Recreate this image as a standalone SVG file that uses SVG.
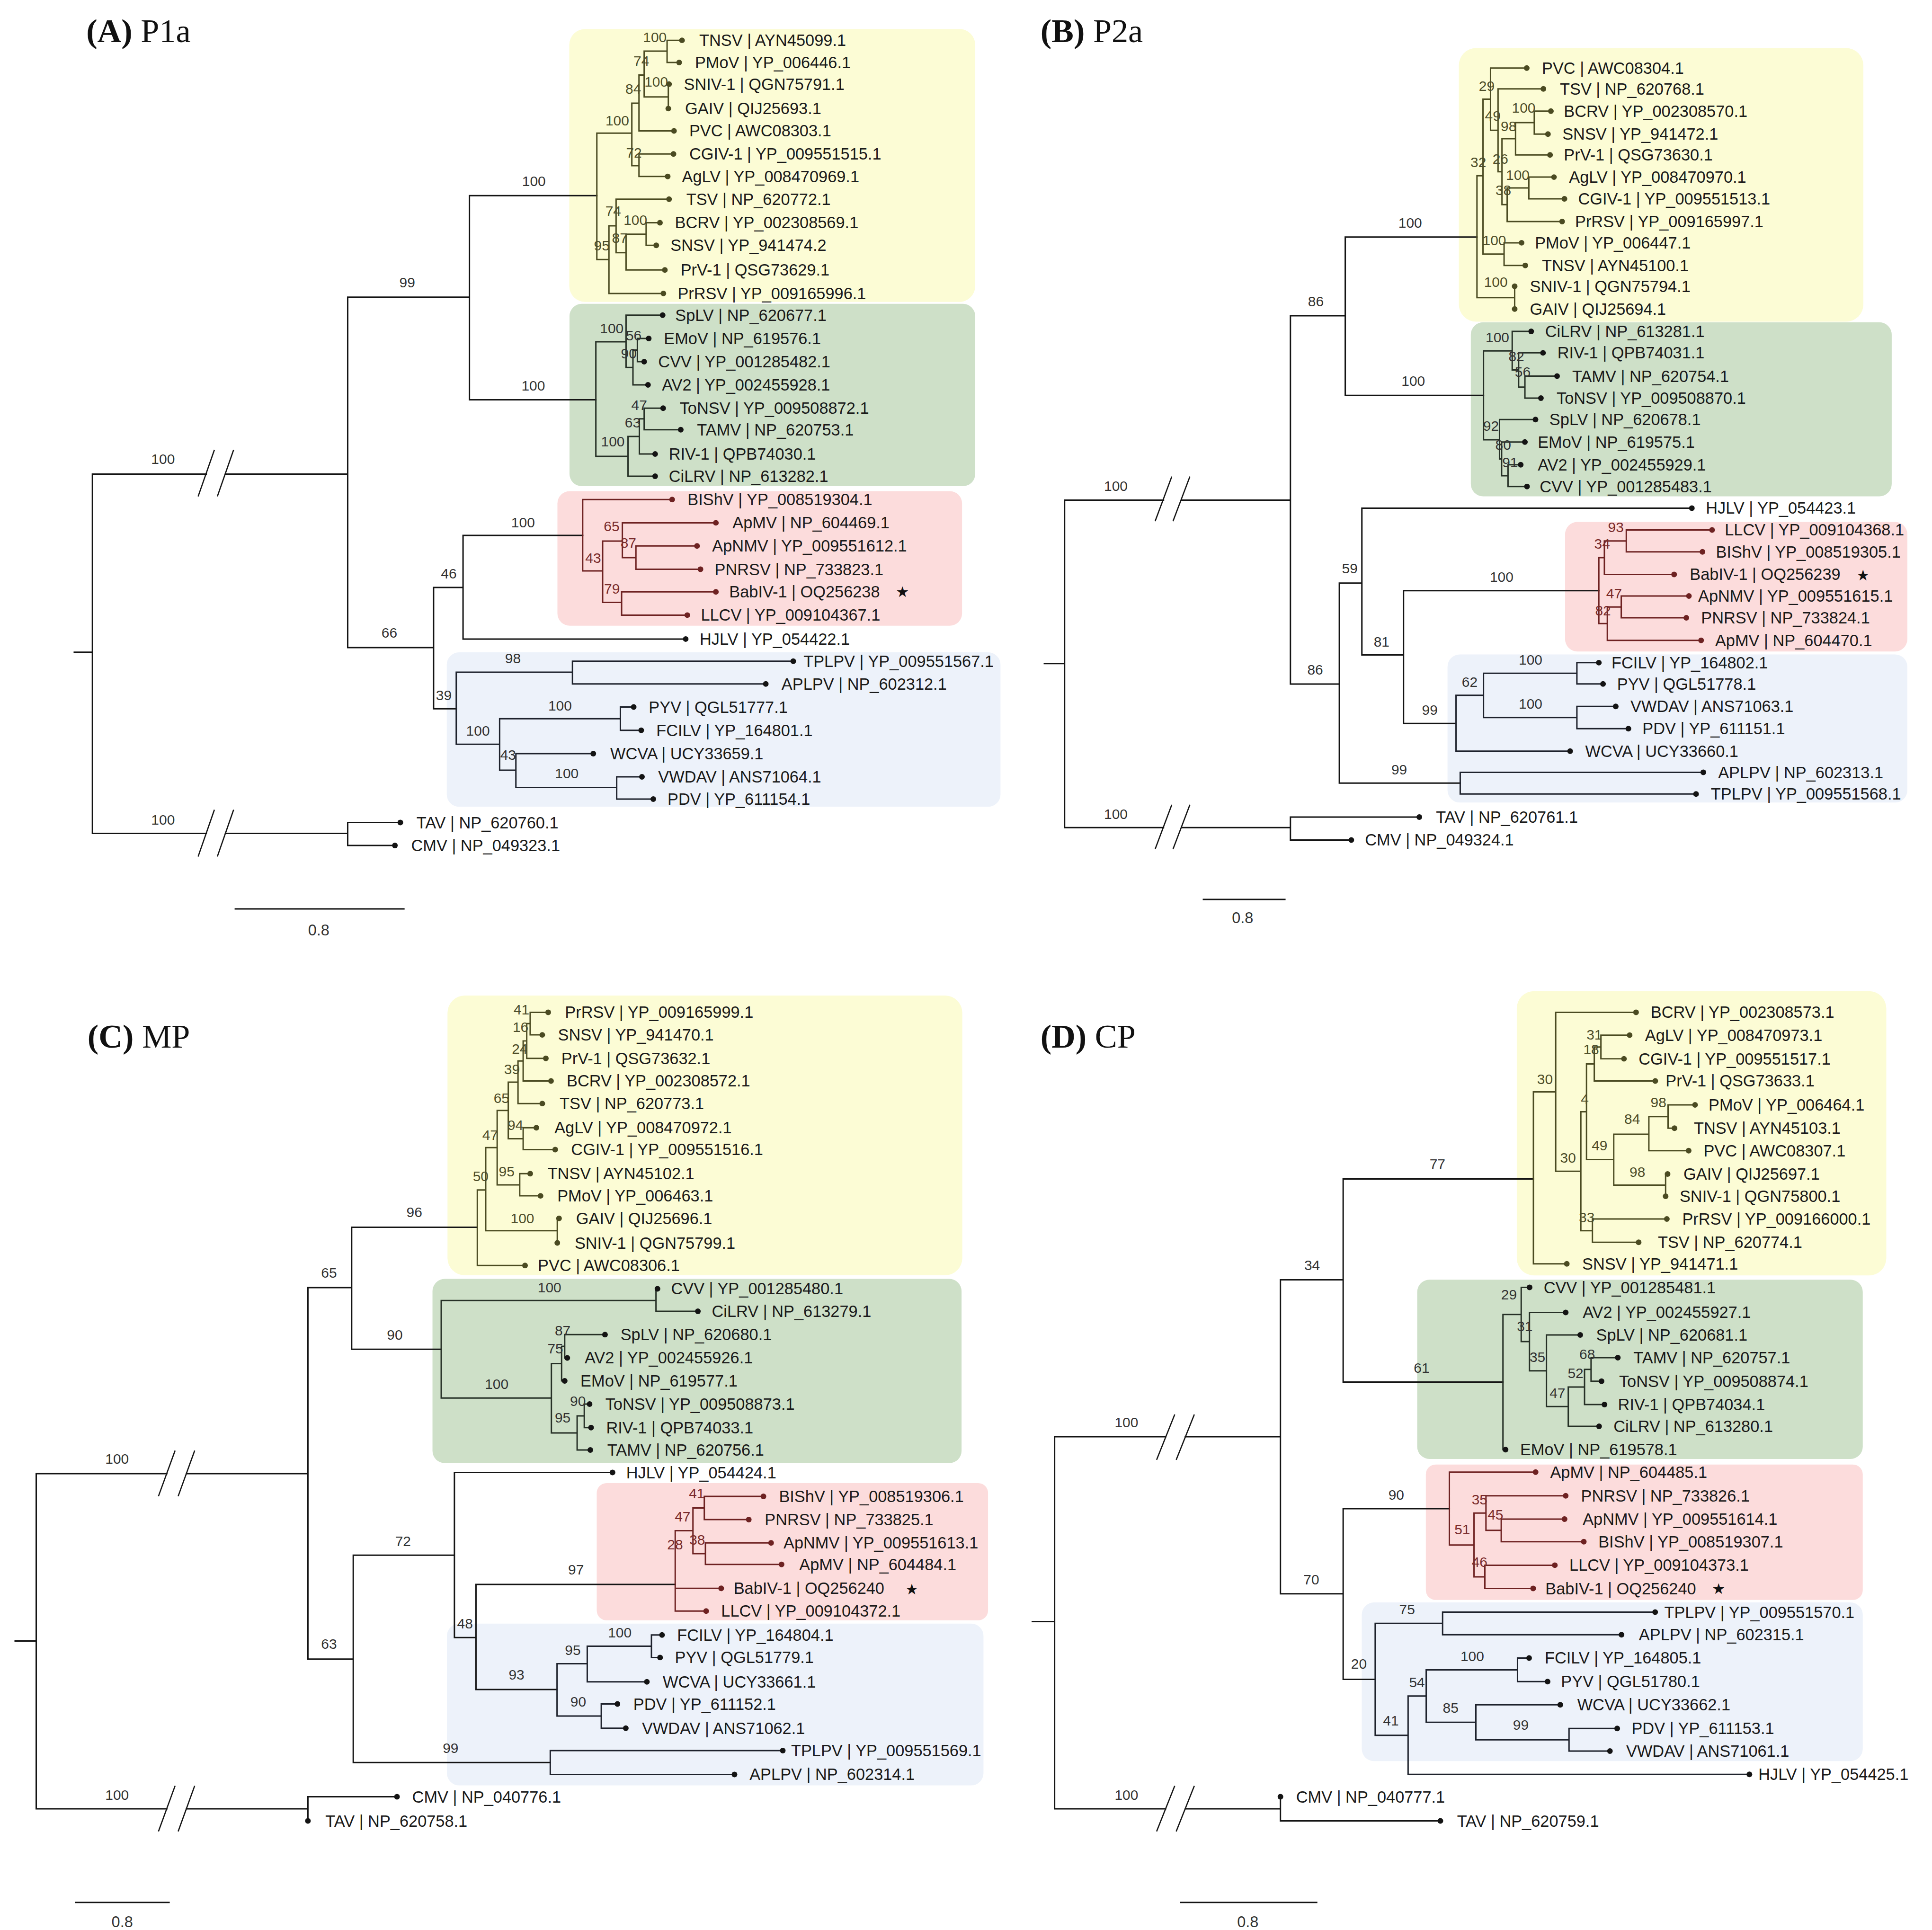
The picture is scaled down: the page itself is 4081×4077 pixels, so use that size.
<svg xmlns="http://www.w3.org/2000/svg" width="4081" height="4077" viewBox="0 0 4081 4077">
<style>
.e{fill:none;stroke-width:1.15;stroke-linecap:square}
.ek{stroke:#141414}
.ey{stroke:#4b4b22}
.eg{stroke:#263026}
.er{stroke:#6e2222}
.eb{stroke:#1e222c}
.brk{fill:none;stroke:#141414;stroke-width:1}
.d{fill:#141414}
.dy{fill:#4b4b22}
.dr{fill:#6e2222}
.t{font-family:"Liberation Sans",Arial,sans-serif;font-size:13.2px;dominant-baseline:central;fill:#1a1a1a}
.b{font-family:"Liberation Sans",Arial,sans-serif;font-size:11.5px;text-anchor:middle;dominant-baseline:central;fill:#333}
.by{fill:#4d4d2a}
.br{fill:#7a2b2b}
.sc{font-family:"Liberation Sans",Arial,sans-serif;font-size:12.5px;text-anchor:middle;dominant-baseline:central;fill:#333}
.ttl{font-family:"Liberation Serif","Times New Roman",serif;font-size:27px;fill:#111}
.star{font-family:"DejaVu Sans",sans-serif;font-size:12px;text-anchor:middle;dominant-baseline:central;fill:#111}
.bxy{fill:#fcfcd5}
.bxg{fill:#cee0c8}
.bxr{fill:#fcdcdc}
.bxb{fill:#edf2fa}
</style>
<rect width="4081" height="4077" fill="#ffffff"/>
<g transform="scale(2.60268,2.60345)">

<!-- ================= PANEL A ================= -->
<g id="panelA">
<text class="ttl" x="70" y="34"><tspan font-weight="bold">(A)</tspan> P1a</text>
<g id="A-boxes">
<rect class="bxy" x="462" y="23.5" width="329.5" height="221.5" rx="13"/>
<rect class="bxg" x="462.2" y="246.5" width="329.3" height="148" rx="10"/>
<rect class="bxr" x="452.4" y="398.5" width="328.4" height="109.2" rx="10"/>
<rect class="bxb" x="362.6" y="529.3" width="449.4" height="125.3" rx="10"/>
</g>
<g id="A-connectors">
<path class="e ek" d="M60.3,529.2H75 M75,384.7V676.2 M75,384.7H167.4 M183,384.7H282.2 M75,676.2H167.4 M183,676.2H282.2 M282.2,667.4V686 M282.2,667.4H324.9 M282.2,686H320.5 M282.2,241.1V525.5 M282.2,241.1H381 M282.2,525.5H351.9 M381,158.7V324.4 M381,158.7H484.4 M381,324.4H483.6 M351.9,476.7V575.1 M351.9,476.7H375.8 M351.9,575.1H370.3 M375.8,434.4V518.5 M375.8,434.4H472.9 M375.8,518.5H556.5"/>
<path class="brk" d="M160.8,402.8L174,365 M176.4,402.8L189.6,365 M160.8,695L174,657 M176.4,695L189.6,657"/>
<path class="e ey" d="M484.4,108V210.6 M484.4,108H512.8 M484.4,210.6H494.2 M512.8,83.7V134.4 M512.8,83.7H518.6 M512.8,134.4H518.6 M518.6,60.9V106.2 M518.6,60.9H522.8 M518.6,106.2H547 M522.8,41.5V78.6 M522.8,41.5H541.4 M522.8,78.6H542.4 M541.4,32.7V50.7 M541.4,32.7H553.5 M541.4,50.7H551.2 M542.4,68.3V88.1 M542.4,68.3H543 M518.6,124.9V143.2 M518.6,124.9H546.6 M518.6,143.2H541.9 M494.2,183.2V238.1 M494.2,183.2H500 M494.2,238.1H538.4 M500,161.6V205 M500,161.6H543 M500,205H508.1 M508.1,190V219 M508.1,190H524.4 M508.1,219H539.6 M524.4,180.7V199.1 M524.4,180.7H535.6 M524.4,199.1H532.6"/>
<path class="e eg" d="M483.6,277.3V370.3 M483.6,277.3H508.1 M483.6,370.3H509.7 M508.1,255.7V298.2 M508.1,255.7H537.8 M508.1,298.2H513.7 M513.7,284V312.3 M513.7,284H517.3 M513.7,312.3H525.9 M517.3,274.6V293.5 M517.3,274.6H526.5 M517.3,293.5H522.8 M509.7,354.1V386.4 M509.7,354.1H518.9 M509.7,386.4H531.7 M518.9,339.8V368.4 M518.9,339.8H522.8 M518.9,368.4H531.7 M522.8,331.2V348.7 M522.8,331.2H538.2 M522.8,348.7H552.5"/>
<path class="e er" d="M472.9,405.3V463.2 M472.9,405.3H545.5 M472.9,463.2H489.1 M489.1,439V488.8 M489.1,439H505.1 M489.1,488.8H504.5 M505.1,424.2V452.5 M505.1,424.2H581 M505.1,452.5H516.1 M516.1,443V461.9 M516.1,443H565.7 M516.1,461.9H568.5 M504.5,480.2V499.1 M504.5,480.2H581 M504.5,499.1H557.8"/>
<path class="e eb" d="M370.3,545.4V603.9 M370.3,545.4H464.6 M370.3,603.9H405.5 M464.6,536.5V554.9 M464.6,536.5H643.8 M464.6,554.9H621.5 M405.5,583.2V624.9 M405.5,583.2H503.5 M405.5,624.9H418.7 M503.5,573.7V592.6 M503.5,573.7H514.3 M503.5,592.6H520.4 M418.7,611.5V639 M418.7,611.5H481.5 M418.7,639H500.5 M500.5,630.3V648.4 M500.5,630.3H521 M500.5,648.4H530.2"/>
<path class="e ek" d="M191,737.5H327.8"/>
</g>
<g id="A-support">
<text class="b" x="132.3" y="372.4">100</text>
<text class="b" x="132.3" y="665">100</text>
<text class="b" x="330.5" y="229.3">99</text>
<text class="b" x="316" y="513.5">66</text>
<text class="b" x="433.3" y="147">100</text>
<text class="b" x="432.8" y="312.8">100</text>
<text class="b" x="424.5" y="424">100</text>
<text class="b" x="364.2" y="465.5">46</text>
<text class="b" x="360.2" y="563.9">39</text>
<text class="b by" x="531.5" y="30">100</text>
<text class="b by" x="520.5" y="49.2">74</text>
<text class="b by" x="532.6" y="66.1">100</text>
<text class="b by" x="514" y="72">84</text>
<text class="b by" x="501" y="97.7">100</text>
<text class="b by" x="514.5" y="124">72</text>
<text class="b by" x="497.7" y="171.2">74</text>
<text class="b by" x="515.7" y="178.5">100</text>
<text class="b by" x="503" y="193">87</text>
<text class="b by" x="488.4" y="199">95</text>
<text class="b" x="496.5" y="266.5">100</text>
<text class="b" x="514.3" y="272">56</text>
<text class="b" x="510.3" y="286.7">90</text>
<text class="b" x="518.8" y="328.5">47</text>
<text class="b" x="513.5" y="342.8">63</text>
<text class="b" x="497.4" y="358.1">100</text>
<text class="b br" x="496.4" y="426.9">65</text>
<text class="b br" x="510" y="440.3">87</text>
<text class="b br" x="481.4" y="452.5">43</text>
<text class="b br" x="496.7" y="477.5">79</text>
<text class="b" x="416.3" y="534">98</text>
<text class="b" x="454.5" y="572.4">100</text>
<text class="b" x="387.9" y="592.8">100</text>
<text class="b" x="412.4" y="612.5">43</text>
<text class="b" x="460" y="627.6">100</text>
<text class="sc" x="258.7" y="754.6">0.8</text>
</g>
<g id="A-TNSV"><circle class="dy" cx="553.5" cy="32.7" r="2.3"/><text class="t" x="567.5" y="32.7">TNSV | AYN45099.1</text></g>
<g id="A-PMoV"><circle class="dy" cx="551.2" cy="50.7" r="2.3"/><text class="t" x="564" y="50.7">PMoV | YP_006446.1</text></g>
<g id="A-SNIV-1"><circle class="dy" cx="543" cy="68.3" r="2.3"/><text class="t" x="555" y="68.3">SNIV-1 | QGN75791.1</text></g>
<g id="A-GAIV"><circle class="dy" cx="542.4" cy="88.1" r="2.3"/><text class="t" x="556" y="88.1">GAIV | QIJ25693.1</text></g>
<g id="A-PVC"><circle class="dy" cx="547" cy="106.2" r="2.3"/><text class="t" x="559.4" y="106.2">PVC | AWC08303.1</text></g>
<g id="A-CGIV-1"><circle class="dy" cx="546.6" cy="124.9" r="2.3"/><text class="t" x="559.4" y="124.9">CGIV-1 | YP_009551515.1</text></g>
<g id="A-AgLV"><circle class="dy" cx="541.9" cy="143.2" r="2.3"/><text class="t" x="553.5" y="143.2">AgLV | YP_008470969.1</text></g>
<g id="A-TSV"><circle class="dy" cx="543" cy="161.6" r="2.3"/><text class="t" x="557" y="161.6">TSV | NP_620772.1</text></g>
<g id="A-BCRV"><circle class="dy" cx="535.6" cy="180.7" r="2.3"/><text class="t" x="547.7" y="180.7">BCRV | YP_002308569.1</text></g>
<g id="A-SNSV"><circle class="dy" cx="532.6" cy="199.1" r="2.3"/><text class="t" x="544.2" y="199.1">SNSV | YP_941474.2</text></g>
<g id="A-PrV-1"><circle class="dy" cx="539.6" cy="219" r="2.3"/><text class="t" x="552.4" y="219">PrV-1 | QSG73629.1</text></g>
<g id="A-PrRSV"><circle class="dy" cx="538.4" cy="238.1" r="2.3"/><text class="t" x="550" y="238.1">PrRSV | YP_009165996.1</text></g>
<g id="A-SpLV"><circle class="d" cx="537.8" cy="255.7" r="2.3"/><text class="t" x="548" y="255.7">SpLV | NP_620677.1</text></g>
<g id="A-EMoV"><circle class="d" cx="526.5" cy="274.6" r="2.3"/><text class="t" x="538.8" y="274.6">EMoV | NP_619576.1</text></g>
<g id="A-CVV"><circle class="d" cx="522.8" cy="293.5" r="2.3"/><text class="t" x="534.2" y="293.5">CVV | YP_001285482.1</text></g>
<g id="A-AV2"><circle class="d" cx="525.9" cy="312.3" r="2.3"/><text class="t" x="537.2" y="312.3">AV2 | YP_002455928.1</text></g>
<g id="A-ToNSV"><circle class="d" cx="538.2" cy="331.2" r="2.3"/><text class="t" x="551.6" y="331.2">ToNSV | YP_009508872.1</text></g>
<g id="A-TAMV"><circle class="d" cx="552.5" cy="348.7" r="2.3"/><text class="t" x="565.7" y="348.7">TAMV | NP_620753.1</text></g>
<g id="A-RIV-1"><circle class="d" cx="531.7" cy="368.4" r="2.3"/><text class="t" x="542.8" y="368.4">RIV-1 | QPB74030.1</text></g>
<g id="A-CiLRV"><circle class="d" cx="531.7" cy="386.4" r="2.3"/><text class="t" x="542.8" y="386.4">CiLRV | NP_613282.1</text></g>
<g id="A-BIShV"><circle class="dr" cx="545.5" cy="405.3" r="2.3"/><text class="t" x="558" y="405.3">BIShV | YP_008519304.1</text></g>
<g id="A-ApMV"><circle class="dr" cx="581" cy="424.2" r="2.3"/><text class="t" x="594.5" y="424.2">ApMV | NP_604469.1</text></g>
<g id="A-ApNMV"><circle class="dr" cx="565.7" cy="443" r="2.3"/><text class="t" x="578" y="443">ApNMV | YP_009551612.1</text></g>
<g id="A-PNRSV"><circle class="dr" cx="568.5" cy="461.9" r="2.3"/><text class="t" x="580" y="461.9">PNRSV | NP_733823.1</text></g>
<g id="A-BabIV-1"><circle class="dr" cx="581" cy="480.2" r="2.3"/><text class="t" x="591.8" y="480.2">BabIV-1 | OQ256238</text><text class="star" x="732.4" y="480.2">★</text></g>
<g id="A-LLCV"><circle class="dr" cx="557.8" cy="499.1" r="2.3"/><text class="t" x="568.8" y="499.1">LLCV | YP_009104367.1</text></g>
<g id="A-HJLV"><circle class="d" cx="556.5" cy="518.5" r="2.3"/><text class="t" x="567.9" y="518.5">HJLV | YP_054422.1</text></g>
<g id="A-TPLPV"><circle class="d" cx="643.8" cy="536.5" r="2.3"/><text class="t" x="652.1" y="536.5">TPLPV | YP_009551567.1</text></g>
<g id="A-APLPV"><circle class="d" cx="621.5" cy="554.9" r="2.3"/><text class="t" x="634.3" y="554.9">APLPV | NP_602312.1</text></g>
<g id="A-PYV"><circle class="d" cx="514.3" cy="573.7" r="2.3"/><text class="t" x="526.5" y="573.7">PYV | QGL51777.1</text></g>
<g id="A-FCILV"><circle class="d" cx="520.4" cy="592.6" r="2.3"/><text class="t" x="532.6" y="592.6">FCILV | YP_164801.1</text></g>
<g id="A-WCVA"><circle class="d" cx="481.5" cy="611.5" r="2.3"/><text class="t" x="495.3" y="611.5">WCVA | UCY33659.1</text></g>
<g id="A-VWDAV"><circle class="d" cx="521" cy="630.3" r="2.3"/><text class="t" x="534.2" y="630.3">VWDAV | ANS71064.1</text></g>
<g id="A-PDV"><circle class="d" cx="530.2" cy="648.4" r="2.3"/><text class="t" x="541.8" y="648.4">PDV | YP_611154.1</text></g>
<g id="A-TAV"><circle class="d" cx="324.9" cy="667.4" r="2.3"/><text class="t" x="338" y="667.4">TAV | NP_620760.1</text></g>
<g id="A-CMV"><circle class="d" cx="320.5" cy="686" r="2.3"/><text class="t" x="333.7" y="686">CMV | NP_049323.1</text></g>
</g>

<!-- ================= PANEL B ================= -->
<g id="panelB">
<text class="ttl" x="844.4" y="34"><tspan font-weight="bold">(B)</tspan> P2a</text>
<g id="B-boxes">
<rect class="bxy" x="1184" y="39" width="328.3" height="222" rx="14"/>
<rect class="bxg" x="1193.7" y="261.5" width="341.6" height="141.2" rx="10"/>
<rect class="bxr" x="1270.2" y="423.5" width="277.8" height="105.1" rx="10"/>
<rect class="bxb" x="1174.8" y="531" width="373.2" height="120.2" rx="10"/>
</g>
<g id="B-connectors">
<path class="e ek" d="M847.6,538.4H864 M864,405.8V671.5 M864,405.8H944.3 M959,405.8H1047.3 M864,671.5H944.3 M959,671.5H1047.3 M1047.3,663V681.6 M1047.3,663H1151.9 M1047.3,681.6H1096.7 M1047.3,256.2V555 M1047.3,256.2H1091.8 M1047.3,555H1087 M1091.8,192.3V320.8 M1091.8,192.3H1198.7 M1091.8,320.8H1204 M1087,473.1V635.4 M1087,473.1H1105.3 M1087,635.4H1185.1 M1105.3,412.3V531.4 M1105.3,412.3H1373.1 M1105.3,531.4H1139.1 M1139.1,479.3V587 M1139.1,479.3H1297.6 M1139.1,587H1181.7"/>
<path class="brk" d="M937.5,422.9L951,386.7 M952,422.9L965.7,386.7 M937.5,689L951,653 M952,689L965.7,653"/>
<path class="e ey" d="M1198.7,142.6V241.5 M1198.7,142.6H1203.6 M1198.7,241.5H1229.3 M1229.3,232.3V250.7 M1203.6,80.5V206.2 M1203.6,80.5H1209.7 M1203.6,206.2H1220.7 M1220.7,197V215.4 M1220.7,197H1234.9 M1220.7,215.4H1237.9 M1209.7,55.2V105.7 M1209.7,55.2H1239.1 M1209.7,105.7H1215.8 M1215.8,72.1V139.3 M1215.8,72.1H1252.6 M1215.8,139.3H1219 M1219,112.5V166 M1219,112.5H1230 M1219,166H1223.2 M1230,99.5V125.7 M1230,99.5H1245.2 M1230,125.7H1258 M1245.2,90.2V108.8 M1245.2,90.2H1258.7 M1245.2,108.8H1256.3 M1223.2,152.5V179.8 M1223.2,152.5H1240.8 M1223.2,179.8H1267.8 M1240.8,143.7V161.3 M1240.8,143.7H1261.2 M1240.8,161.3H1269.7"/>
<path class="e eg" d="M1204,284.7V356.8 M1204,284.7H1227.3 M1204,356.8H1217 M1227.3,268.9V300.2 M1227.3,268.9H1242.7 M1227.3,300.2H1232.5 M1232.5,286.3V314.1 M1232.5,286.3H1252.3 M1232.5,314.1H1237.6 M1237.6,305.2V323 M1237.6,305.2H1263.7 M1237.6,323H1250.6 M1217,340.4V372.4 M1217,340.4H1246.2 M1217,372.4H1218.7 M1218.7,358.7V386 M1218.7,358.7H1237.6 M1218.7,386H1223.9 M1223.9,377.1V394.8 M1223.9,377.1H1234.2 M1223.9,394.8H1239.3"/>
<path class="e er" d="M1297.6,452.5V506 M1297.6,452.5H1302.1 M1297.6,506H1304.5 M1302.1,438.9V466.1 M1302.1,438.9H1319.9 M1302.1,466.1H1358.7 M1319.9,430V447.8 M1319.9,430H1389.5 M1319.9,447.8H1381.7 M1304.5,492.5V519.6 M1304.5,492.5H1315.8 M1304.5,519.6H1380.6 M1315.8,483.6V501.3 M1315.8,483.6H1370.7 M1315.8,501.3H1368.6"/>
<path class="e eb" d="M1181.7,564.2V609.5 M1181.7,564.2H1204 M1181.7,609.5H1274.3 M1204,546.3V582.2 M1204,546.3H1279.8 M1204,582.2H1279.8 M1279.8,537.7V554.9 M1279.8,537.7H1297.6 M1279.8,554.9H1301 M1279.8,573.2V591.2 M1279.8,573.2H1311.3 M1279.8,591.2H1321.6 M1185.1,626.7V644.2 M1185.1,626.7H1382.4 M1185.1,644.2H1376.5"/>
<path class="e ek" d="M976.7,729.8H1042.8"/>
</g>
<g id="B-support">
<text class="b" x="905.6" y="394.3">100</text>
<text class="b" x="905.6" y="660.5">100</text>
<text class="b" x="1067.9" y="244.6">86</text>
<text class="b" x="1067.4" y="543.4">86</text>
<text class="b" x="1144.5" y="180.8">100</text>
<text class="b" x="1147" y="308.9">100</text>
<text class="b" x="1095.5" y="461">59</text>
<text class="b" x="1121.3" y="520.8">81</text>
<text class="b" x="1218.7" y="468.1">100</text>
<text class="b" x="1160.4" y="576">99</text>
<text class="b" x="1135.6" y="624.4">99</text>
<text class="b by" x="1206.6" y="69.9">29</text>
<text class="b by" x="1211.5" y="94.1">49</text>
<text class="b by" x="1236.6" y="87.5">100</text>
<text class="b by" x="1224.4" y="102.2">98</text>
<text class="b by" x="1199.8" y="131.6">32</text>
<text class="b by" x="1217.7" y="128.7">26</text>
<text class="b by" x="1231.8" y="141.9">100</text>
<text class="b by" x="1220.1" y="154.4">38</text>
<text class="b by" x="1212.8" y="194.8">100</text>
<text class="b by" x="1214" y="228.6">100</text>
<text class="b" x="1215.3" y="273.7">100</text>
<text class="b" x="1230.7" y="289.2">82</text>
<text class="b" x="1235.8" y="301.8">56</text>
<text class="b" x="1210.1" y="345.5">92</text>
<text class="b" x="1220" y="361">80</text>
<text class="b" x="1225.6" y="375.1">91</text>
<text class="b br" x="1311.4" y="427.8">93</text>
<text class="b br" x="1300.3" y="441.3">34</text>
<text class="b br" x="1310" y="481.3">47</text>
<text class="b br" x="1301" y="495.4">82</text>
<text class="b" x="1192.8" y="553.4">62</text>
<text class="b" x="1242.2" y="535.1">100</text>
<text class="b" x="1242.2" y="570.9">100</text>
<text class="sc" x="1008.5" y="744.9">0.8</text>
</g>
<g id="B-PVC"><circle class="dy" cx="1239.1" cy="55.2" r="2.3"/><text class="t" x="1251.4" y="55.2">PVC | AWC08304.1</text></g>
<g id="B-TSV"><circle class="dy" cx="1252.6" cy="72.1" r="2.3"/><text class="t" x="1266" y="72.1">TSV | NP_620768.1</text></g>
<g id="B-BCRV"><circle class="dy" cx="1258.7" cy="90.2" r="2.3"/><text class="t" x="1269.2" y="90.2">BCRV | YP_002308570.1</text></g>
<g id="B-SNSV"><circle class="dy" cx="1256.3" cy="108.8" r="2.3"/><text class="t" x="1268" y="108.8">SNSV | YP_941472.1</text></g>
<g id="B-PrV-1"><circle class="dy" cx="1258" cy="125.7" r="2.3"/><text class="t" x="1269.2" y="125.7">PrV-1 | QSG73630.1</text></g>
<g id="B-AgLV"><circle class="dy" cx="1261.2" cy="143.7" r="2.3"/><text class="t" x="1273.4" y="143.7">AgLV | YP_008470970.1</text></g>
<g id="B-CGIV-1"><circle class="dy" cx="1269.7" cy="161.3" r="2.3"/><text class="t" x="1280.8" y="161.3">CGIV-1 | YP_009551513.1</text></g>
<g id="B-PrRSV"><circle class="dy" cx="1267.8" cy="179.8" r="2.3"/><text class="t" x="1278.3" y="179.8">PrRSV | YP_009165997.1</text></g>
<g id="B-PMoV"><circle class="dy" cx="1234.9" cy="197" r="2.3"/><text class="t" x="1245.7" y="197">PMoV | YP_006447.1</text></g>
<g id="B-TNSV"><circle class="dy" cx="1237.9" cy="215.4" r="2.3"/><text class="t" x="1251.4" y="215.4">TNSV | AYN45100.1</text></g>
<g id="B-SNIV-1"><circle class="dy" cx="1229.3" cy="232.3" r="2.3"/><text class="t" x="1241.6" y="232.3">SNIV-1 | QGN75794.1</text></g>
<g id="B-GAIV"><circle class="dy" cx="1229.3" cy="250.7" r="2.3"/><text class="t" x="1241.6" y="250.7">GAIV | QIJ25694.1</text></g>
<g id="B-CiLRV"><circle class="d" cx="1242.7" cy="268.9" r="2.3"/><text class="t" x="1254" y="268.9">CiLRV | NP_613281.1</text></g>
<g id="B-RIV-1"><circle class="d" cx="1252.3" cy="286.3" r="2.3"/><text class="t" x="1264" y="286.3">RIV-1 | QPB74031.1</text></g>
<g id="B-TAMV"><circle class="d" cx="1263.7" cy="305.2" r="2.3"/><text class="t" x="1276" y="305.2">TAMV | NP_620754.1</text></g>
<g id="B-ToNSV"><circle class="d" cx="1250.6" cy="323" r="2.3"/><text class="t" x="1263.3" y="323">ToNSV | YP_009508870.1</text></g>
<g id="B-SpLV"><circle class="d" cx="1246.2" cy="340.4" r="2.3"/><text class="t" x="1257.5" y="340.4">SpLV | NP_620678.1</text></g>
<g id="B-EMoV"><circle class="d" cx="1237.6" cy="358.7" r="2.3"/><text class="t" x="1248" y="358.7">EMoV | NP_619575.1</text></g>
<g id="B-AV2"><circle class="d" cx="1234.2" cy="377.1" r="2.3"/><text class="t" x="1248" y="377.1">AV2 | YP_002455929.1</text></g>
<g id="B-CVV"><circle class="d" cx="1239.3" cy="394.8" r="2.3"/><text class="t" x="1249.6" y="394.8">CVV | YP_001285483.1</text></g>
<g id="B-HJLV"><circle class="d" cx="1373.1" cy="412.3" r="2.3"/><text class="t" x="1384.4" y="412.3">HJLV | YP_054423.1</text></g>
<g id="B-LLCV"><circle class="dr" cx="1389.5" cy="430" r="2.3"/><text class="t" x="1399.8" y="430">LLCV | YP_009104368.1</text></g>
<g id="B-BIShV"><circle class="dr" cx="1381.7" cy="447.8" r="2.3"/><text class="t" x="1392.6" y="447.8">BIShV | YP_008519305.1</text></g>
<g id="B-BabIV-1"><circle class="dr" cx="1358.7" cy="466.1" r="2.3"/><text class="t" x="1371.4" y="466.1">BabIV-1 | OQ256239</text><text class="star" x="1512" y="466.7">★</text></g>
<g id="B-ApNMV"><circle class="dr" cx="1370.7" cy="483.6" r="2.3"/><text class="t" x="1378.2" y="483.6">ApNMV | YP_009551615.1</text></g>
<g id="B-PNRSV"><circle class="dr" cx="1368.6" cy="501.3" r="2.3"/><text class="t" x="1380.6" y="501.3">PNRSV | NP_733824.1</text></g>
<g id="B-ApMV"><circle class="dr" cx="1380.6" cy="519.6" r="2.3"/><text class="t" x="1392" y="519.6">ApMV | NP_604470.1</text></g>
<g id="B-FCILV"><circle class="d" cx="1297.6" cy="537.7" r="2.3"/><text class="t" x="1307.9" y="537.7">FCILV | YP_164802.1</text></g>
<g id="B-PYV"><circle class="d" cx="1301" cy="554.9" r="2.3"/><text class="t" x="1312.4" y="554.9">PYV | QGL51778.1</text></g>
<g id="B-VWDAV"><circle class="d" cx="1311.3" cy="573.2" r="2.3"/><text class="t" x="1323.3" y="573.2">VWDAV | ANS71063.1</text></g>
<g id="B-PDV"><circle class="d" cx="1321.6" cy="591.2" r="2.3"/><text class="t" x="1333" y="591.2">PDV | YP_611151.1</text></g>
<g id="B-WCVA"><circle class="d" cx="1274.3" cy="609.5" r="2.3"/><text class="t" x="1286.6" y="609.5">WCVA | UCY33660.1</text></g>
<g id="B-APLPV"><circle class="d" cx="1382.4" cy="626.7" r="2.3"/><text class="t" x="1394.4" y="626.7">APLPV | NP_602313.1</text></g>
<g id="B-TPLPV"><circle class="d" cx="1376.5" cy="644.2" r="2.3"/><text class="t" x="1388.5" y="644.2">TPLPV | YP_009551568.1</text></g>
<g id="B-TAV"><circle class="d" cx="1151.9" cy="663" r="2.3"/><text class="t" x="1165.4" y="663">TAV | NP_620761.1</text></g>
<g id="B-CMV"><circle class="d" cx="1096.7" cy="681.6" r="2.3"/><text class="t" x="1107.8" y="681.6">CMV | NP_049324.1</text></g>
</g>

<!-- ================= PANEL C ================= -->
<g id="panelC">
<text class="ttl" x="71" y="850"><tspan font-weight="bold">(C)</tspan> MP</text>
<g id="C-boxes">
<rect class="bxy" x="363.2" y="807.8" width="417.8" height="227" rx="14"/>
<rect class="bxg" x="351" y="1037.7" width="429.4" height="149.5" rx="10"/>
<rect class="bxr" x="484.3" y="1203.4" width="317.6" height="111.3" rx="8"/>
<rect class="bxb" x="362.7" y="1317.4" width="435.5" height="131.3" rx="10"/>
</g>
<g id="C-connectors">
<path class="e ek" d="M12.3,1331.5H29.4 M29.4,1195.7V1467.7 M29.4,1195.7H135.4 M151.3,1195.7H249.9 M29.4,1467.7H135.4 M151.3,1467.7H249.9 M249.9,1457.9V1477.5 M249.9,1457.9H322.2 M249.9,1044.8V1346.2 M249.9,1044.8H285.4 M249.9,1346.2H286.7 M285.4,995.8V1094.8 M285.4,995.8H387.4 M285.4,1094.8H358.1 M286.7,1261.9V1430.1 M286.7,1261.9H368.8 M286.7,1430.1H446.6 M368.8,1194.8V1328.7 M368.8,1194.8H497.1 M368.8,1328.7H386.3 M386.3,1285.6V1370.9 M386.3,1285.6H548 M386.3,1370.9H452.1"/>
<path class="brk" d="M128.6,1214L142.1,1177 M144.6,1214L158,1177 M128.6,1486L142.1,1449 M144.6,1486L158,1449"/>
<path class="e ey" d="M387.4,965.5V1026.8 M387.4,965.5H394.2 M387.4,1026.8H426.1 M394.2,931.2V998.6 M394.2,931.2H403.5 M394.2,998.6H452.3 M452.3,988.6V1008.5 M452.3,988.6H453.7 M403.5,901V961.4 M403.5,901H412.5 M403.5,961.4H421.8 M421.8,952.3V970.3 M421.8,952.3H430.3 M421.8,970.3H438.7 M412.5,878.1V924 M412.5,878.1H420.4 M412.5,924H424.6 M424.6,915V932.8 M424.6,915H435.3 M424.6,932.8H450.6 M420.4,860.9V895.4 M420.4,860.9H424.6 M420.4,895.4H440.1 M424.6,844.6V877.1 M424.6,844.6H427.5 M424.6,877.1H447.2 M427.5,830.5V858.8 M427.5,830.5H430.3 M427.5,858.8H443 M430.3,821.4V839.7 M430.3,821.4H444.9 M430.3,839.7H440.1"/>
<path class="e eg" d="M358.1,1055.2V1134.4 M358.1,1055.2H532.4 M358.1,1134.4H447.5 M532.4,1045.7V1064 M532.4,1045.7H533.6 M532.4,1064H566.4 M447.5,1106.4V1162.7 M447.5,1106.4H455.8 M447.5,1162.7H468.4 M455.8,1092.4V1120.4 M455.8,1092.4H458.3 M455.8,1120.4H458.3 M458.3,1082.9V1101.8 M458.3,1082.9H491 M458.3,1101.8H460.4 M468.4,1148.9V1176.5 M468.4,1148.9H474.2 M468.4,1176.5H479.1 M474.2,1139.3V1158.4 M474.2,1139.3H478.5 M474.2,1158.4H479.7"/>
<path class="e er" d="M548,1242V1307.2 M548,1242H562.4 M548,1288.8H585.3 M548,1307.2H573.1 M562.4,1223.6V1260.6 M562.4,1223.6H571.6 M562.4,1260.6H572.5 M571.6,1214.2V1233 M571.6,1214.2H619.6 M571.6,1233H607.7 M572.5,1251.9V1269.4 M572.5,1251.9H625.8 M572.5,1269.4H634.3"/>
<path class="e eb" d="M452.1,1349.9V1392.4 M452.1,1349.9H476.6 M452.1,1392.4H488 M476.6,1335.7V1364.6 M476.6,1335.7H528.7 M476.6,1364.6H525 M528.7,1326.6V1344.9 M528.7,1326.6H537.3 M528.7,1344.9H535.7 M488,1382.6V1402.3 M488,1382.6H501.1 M488,1402.3H507.9 M446.6,1420.4V1439.8 M446.6,1420.4H635.3 M446.6,1439.8H596.1"/>
<path class="e ek" d="M61.3,1543.6H137.2"/>
</g>
<g id="C-support">
<text class="b" x="95" y="1183.5">100</text>
<text class="b" x="95" y="1456.4">100</text>
<text class="b" x="267" y="1032.6">65</text>
<text class="b" x="336.3" y="983.6">96</text>
<text class="b" x="320.4" y="1083">90</text>
<text class="b" x="267" y="1333.9">63</text>
<text class="b" x="327.1" y="1250.6">72</text>
<text class="b" x="365.7" y="1418.2">99</text>
<text class="b" x="377.4" y="1317.3">48</text>
<text class="b" x="467.5" y="1273.5">97</text>
<text class="b" x="419.2" y="1358.9">93</text>
<text class="b by" x="423.2" y="819">41</text>
<text class="b by" x="422.5" y="833.3">16</text>
<text class="b by" x="421.8" y="850.8">24</text>
<text class="b by" x="415.5" y="867.6">39</text>
<text class="b by" x="407" y="891.1">65</text>
<text class="b by" x="418.3" y="912.9">94</text>
<text class="b by" x="397.8" y="920.9">47</text>
<text class="b by" x="411.2" y="950.4">95</text>
<text class="b by" x="390.1" y="954.4">50</text>
<text class="b by" x="424" y="988.6">100</text>
<text class="b" x="446" y="1044.4">100</text>
<text class="b" x="403.1" y="1123.1">100</text>
<text class="b" x="456.7" y="1079.4">87</text>
<text class="b" x="450.7" y="1094.3">75</text>
<text class="b" x="469" y="1136.8">90</text>
<text class="b" x="456.7" y="1150.3">95</text>
<text class="b br" x="565.5" y="1211.5">41</text>
<text class="b br" x="554" y="1230.4">47</text>
<text class="b br" x="565.9" y="1249.2">38</text>
<text class="b br" x="547.9" y="1253.3">28</text>
<text class="b" x="503" y="1324.7">100</text>
<text class="b" x="464.9" y="1338.7">95</text>
<text class="b" x="469.3" y="1380.5">90</text>
<text class="sc" x="99.2" y="1559.3">0.8</text>
</g>
<g id="C-PrRSV"><circle class="dy" cx="444.9" cy="821.4" r="2.3"/><text class="t" x="458.5" y="821.4">PrRSV | YP_009165999.1</text></g>
<g id="C-SNSV"><circle class="dy" cx="440.1" cy="839.7" r="2.3"/><text class="t" x="452.8" y="839.7">SNSV | YP_941470.1</text></g>
<g id="C-PrV-1"><circle class="dy" cx="443" cy="858.8" r="2.3"/><text class="t" x="455.6" y="858.8">PrV-1 | QSG73632.1</text></g>
<g id="C-BCRV"><circle class="dy" cx="447.2" cy="877.1" r="2.3"/><text class="t" x="459.9" y="877.1">BCRV | YP_002308572.1</text></g>
<g id="C-TSV"><circle class="dy" cx="440.1" cy="895.4" r="2.3"/><text class="t" x="454.2" y="895.4">TSV | NP_620773.1</text></g>
<g id="C-AgLV"><circle class="dy" cx="435.3" cy="915" r="2.3"/><text class="t" x="450" y="915">AgLV | YP_008470972.1</text></g>
<g id="C-CGIV-1"><circle class="dy" cx="450.6" cy="932.8" r="2.3"/><text class="t" x="463.5" y="932.8">CGIV-1 | YP_009551516.1</text></g>
<g id="C-TNSV"><circle class="dy" cx="430.3" cy="952.3" r="2.3"/><text class="t" x="444.4" y="952.3">TNSV | AYN45102.1</text></g>
<g id="C-PMoV"><circle class="dy" cx="438.7" cy="970.3" r="2.3"/><text class="t" x="452.3" y="970.3">PMoV | YP_006463.1</text></g>
<g id="C-GAIV"><circle class="dy" cx="453.7" cy="988.6" r="2.3"/><text class="t" x="467.5" y="988.6">GAIV | QIJ25696.1</text></g>
<g id="C-SNIV-1"><circle class="dy" cx="452.3" cy="1008.5" r="2.3"/><text class="t" x="466.4" y="1008.5">SNIV-1 | QGN75799.1</text></g>
<g id="C-PVC"><circle class="dy" cx="426.1" cy="1026.8" r="2.3"/><text class="t" x="436.5" y="1026.8">PVC | AWC08306.1</text></g>
<g id="C-CVV"><circle class="d" cx="533.6" cy="1045.7" r="2.3"/><text class="t" x="544.6" y="1045.7">CVV | YP_001285480.1</text></g>
<g id="C-CiLRV"><circle class="d" cx="566.4" cy="1064" r="2.3"/><text class="t" x="577.7" y="1064">CiLRV | NP_613279.1</text></g>
<g id="C-SpLV"><circle class="d" cx="491" cy="1082.9" r="2.3"/><text class="t" x="503.6" y="1082.9">SpLV | NP_620680.1</text></g>
<g id="C-AV2"><circle class="d" cx="460.4" cy="1101.8" r="2.3"/><text class="t" x="474.5" y="1101.8">AV2 | YP_002455926.1</text></g>
<g id="C-EMoV"><circle class="d" cx="458.3" cy="1120.4" r="2.3"/><text class="t" x="471.1" y="1120.4">EMoV | NP_619577.1</text></g>
<g id="C-ToNSV"><circle class="d" cx="478.5" cy="1139.3" r="2.3"/><text class="t" x="491.3" y="1139.3">ToNSV | YP_009508873.1</text></g>
<g id="C-RIV-1"><circle class="d" cx="479.7" cy="1158.4" r="2.3"/><text class="t" x="492" y="1158.4">RIV-1 | QPB74033.1</text></g>
<g id="C-TAMV"><circle class="d" cx="479.1" cy="1176.5" r="2.3"/><text class="t" x="492.9" y="1176.5">TAMV | NP_620756.1</text></g>
<g id="C-HJLV"><circle class="d" cx="497.1" cy="1194.8" r="2.3"/><text class="t" x="508.2" y="1194.8">HJLV | YP_054424.1</text></g>
<g id="C-BIShV"><circle class="dr" cx="619.6" cy="1214.2" r="2.3"/><text class="t" x="632.2" y="1214.2">BIShV | YP_008519306.1</text></g>
<g id="C-PNRSV"><circle class="dr" cx="607.7" cy="1233" r="2.3"/><text class="t" x="620.6" y="1233">PNRSV | NP_733825.1</text></g>
<g id="C-ApNMV"><circle class="dr" cx="625.8" cy="1251.9" r="2.3"/><text class="t" x="635.9" y="1251.9">ApNMV | YP_009551613.1</text></g>
<g id="C-ApMV"><circle class="dr" cx="634.3" cy="1269.4" r="2.3"/><text class="t" x="648.7" y="1269.4">ApMV | NP_604484.1</text></g>
<g id="C-BabIV-1"><circle class="dr" cx="585.3" cy="1288.8" r="2.3"/><text class="t" x="595.4" y="1288.8">BabIV-1 | OQ256240</text><text class="star" x="740" y="1289.6">★</text></g>
<g id="C-LLCV"><circle class="dr" cx="573.1" cy="1307.2" r="2.3"/><text class="t" x="585.3" y="1307.2">LLCV | YP_009104372.1</text></g>
<g id="C-FCILV"><circle class="d" cx="537.3" cy="1326.6" r="2.3"/><text class="t" x="549.5" y="1326.6">FCILV | YP_164804.1</text></g>
<g id="C-PYV"><circle class="d" cx="535.7" cy="1344.9" r="2.3"/><text class="t" x="547.7" y="1344.9">PYV | QGL51779.1</text></g>
<g id="C-WCVA"><circle class="d" cx="525" cy="1364.6" r="2.3"/><text class="t" x="537.9" y="1364.6">WCVA | UCY33661.1</text></g>
<g id="C-PDV"><circle class="d" cx="501.1" cy="1382.6" r="2.3"/><text class="t" x="514" y="1382.6">PDV | YP_611152.1</text></g>
<g id="C-VWDAV"><circle class="d" cx="507.9" cy="1402.3" r="2.3"/><text class="t" x="521" y="1402.3">VWDAV | ANS71062.1</text></g>
<g id="C-TPLPV"><circle class="d" cx="635.3" cy="1420.4" r="2.3"/><text class="t" x="642" y="1420.4">TPLPV | YP_009551569.1</text></g>
<g id="C-APLPV"><circle class="d" cx="596.1" cy="1439.8" r="2.3"/><text class="t" x="608.3" y="1439.8">APLPV | NP_602314.1</text></g>
<g id="C-CMV"><circle class="d" cx="322.2" cy="1457.9" r="2.3"/><text class="t" x="334.5" y="1457.9">CMV | NP_040776.1</text></g>
<g id="C-TAV"><circle class="d" cx="249.9" cy="1477.5" r="2.3"/><text class="t" x="264.1" y="1477.5">TAV | NP_620758.1</text></g>
</g>

<!-- ================= PANEL D ================= -->
<g id="panelD">
<text class="ttl" x="844.4" y="850"><tspan font-weight="bold">(D)</tspan> CP</text>
<g id="D-boxes">
<rect class="bxy" x="1231" y="804.2" width="299.9" height="230.7" rx="14"/>
<rect class="bxg" x="1150.2" y="1038.3" width="361.6" height="145.5" rx="10"/>
<rect class="bxr" x="1157.2" y="1188.3" width="354.6" height="109.9" rx="8"/>
<rect class="bxb" x="1105.2" y="1300.2" width="406.6" height="128.8" rx="10"/>
</g>
<g id="D-connectors">
<path class="e ek" d="M837.8,1315.8H855.9 M855.9,1165.8V1467.7 M855.9,1165.8H946 M962,1165.8H1039.2 M855.9,1467.7H946 M962,1467.7H1039.2 M1039.2,1457.9V1477.5 M1039.2,1477.5H1169 M1039.2,1038.4V1293.2 M1039.2,1038.4H1090.1 M1039.2,1293.2H1090.1 M1090.1,956.6V1121.4 M1090.1,956.6H1244.5 M1090.1,1121.4H1219.8 M1090.1,1224.1V1362.6 M1090.1,1224.1H1176.3 M1090.1,1362.6H1116.1"/>
<path class="brk" d="M938.7,1184.5L953.4,1147.7 M954.6,1184.5L969.3,1147.7 M938.7,1486L953.4,1449 M954.6,1486L969.3,1449"/>
<path class="e ey" d="M1244.5,885.9V1025.5 M1244.5,885.9H1262.6 M1244.5,1025.5H1271.6 M1262.6,821.4V950.4 M1262.6,821.4H1327.8 M1262.6,950.4H1283 M1283,902.1V998.6 M1283,902.1H1287.6 M1283,998.6H1292.4 M1292.4,989.1V1008 M1292.4,989.1H1352.8 M1292.4,1008H1329.9 M1287.6,863.3V940.9 M1287.6,863.3H1293.9 M1287.6,940.9H1309.7 M1293.9,849.5V877.1 M1293.9,849.5H1299.3 M1293.9,877.1H1343.4 M1299.3,839.9V859.1 M1299.3,839.9H1322.6 M1299.3,859.1H1318 M1309.7,920.3V961.6 M1309.7,920.3H1338.2 M1309.7,961.6H1351.8 M1338.2,906V933.7 M1338.2,906H1353.8 M1338.2,933.7H1370.5 M1353.8,896.5V915.4 M1353.8,896.5H1375.7 M1353.8,915.4H1359 M1351.8,952.6V970.6 M1351.8,952.6H1353.4"/>
<path class="e eg" d="M1219.8,1066.6V1176.2 M1219.8,1066.6H1234.6 M1219.8,1176.2H1221.9 M1234.6,1044.6V1088.6 M1234.6,1044.6H1241.4 M1234.6,1088.6H1241.3 M1241.3,1064.9V1112.3 M1241.3,1064.9H1270.7 M1241.3,1112.3H1255.1 M1255.1,1083.2V1141.3 M1255.1,1083.2H1282.5 M1255.1,1141.3H1272.8 M1272.8,1125.4V1157.3 M1272.8,1125.4H1286 M1272.8,1157.3H1297.8 M1286,1111.1V1139.6 M1286,1111.1H1291.3 M1286,1139.6H1302.2 M1291.3,1101.6V1120.7 M1291.3,1101.6H1313 M1291.3,1120.7H1299.8"/>
<path class="e er" d="M1176.3,1194.5V1253.6 M1176.3,1194.5H1246.3 M1176.3,1253.6H1196.3 M1196.3,1227.7V1279.5 M1196.3,1227.7H1206 M1196.3,1279.5H1205.1 M1206,1213.7V1241.7 M1206,1213.7H1270.7 M1206,1241.7H1218.4 M1218.4,1232.6V1250.9 M1218.4,1232.6H1269.8 M1218.4,1250.9H1285.4 M1205.1,1270V1288.9 M1205.1,1270H1261.9 M1205.1,1288.9H1244.3"/>
<path class="e eb" d="M1116.1,1317.2V1408 M1116.1,1317.2H1170.8 M1116.1,1408H1142.8 M1170.8,1308.1V1326.4 M1170.8,1308.1H1343.3 M1170.8,1326.4H1316 M1142.8,1376.2V1439.7 M1142.8,1376.2H1157.5 M1142.8,1439.7H1419.8 M1157.5,1354.9V1397.5 M1157.5,1354.9H1231.6 M1157.5,1397.5H1197.8 M1231.6,1345.3V1364.4 M1231.6,1345.3H1241 M1231.6,1364.4H1256 M1197.8,1383.3V1411.7 M1197.8,1383.3H1266.3 M1197.8,1411.7H1273.4 M1273.4,1402.5V1420.8 M1273.4,1402.5H1312.5 M1273.4,1420.8H1306.6"/>
<path class="e ek" d="M958.3,1543.6H1068.6"/>
</g>
<g id="D-support">
<text class="b" x="914.2" y="1154.1">100</text>
<text class="b" x="914.2" y="1456.4">100</text>
<text class="b" x="1064.9" y="1026.7">34</text>
<text class="b" x="1166.6" y="944.4">77</text>
<text class="b" x="1153.8" y="1110">61</text>
<text class="b" x="1064.3" y="1281.5">70</text>
<text class="b" x="1133.2" y="1212.9">90</text>
<text class="b" x="1102.9" y="1350">20</text>
<text class="b by" x="1294" y="839.4">31</text>
<text class="b by" x="1291.4" y="851.4">18</text>
<text class="b by" x="1253.9" y="875.4">30</text>
<text class="b by" x="1286.2" y="891.7">4</text>
<text class="b by" x="1346" y="894.3">98</text>
<text class="b by" x="1324.7" y="908">84</text>
<text class="b by" x="1298.2" y="929.4">49</text>
<text class="b by" x="1272.6" y="939.4">30</text>
<text class="b by" x="1328.9" y="950.9">98</text>
<text class="b by" x="1287.8" y="987.7">33</text>
<text class="b" x="1224.7" y="1050.3">29</text>
<text class="b" x="1237.5" y="1076.2">31</text>
<text class="b" x="1288.2" y="1098.7">68</text>
<text class="b" x="1247.8" y="1101">35</text>
<text class="b" x="1278.7" y="1114.2">52</text>
<text class="b" x="1264" y="1130.3">47</text>
<text class="b br" x="1200.8" y="1216.5">35</text>
<text class="b br" x="1213.7" y="1228.9">45</text>
<text class="b br" x="1186.8" y="1241">51</text>
<text class="b br" x="1200.8" y="1267.2">46</text>
<text class="b" x="1142" y="1305.8">75</text>
<text class="b" x="1194.9" y="1343.9">100</text>
<text class="b" x="1150" y="1365">54</text>
<text class="b" x="1177.3" y="1385.6">85</text>
<text class="b" x="1128.8" y="1396">41</text>
<text class="b" x="1234.3" y="1399.6">99</text>
<text class="sc" x="1012.7" y="1559.3">0.8</text>
</g>
<g id="D-BCRV"><circle class="dy" cx="1327.8" cy="821.4" r="2.3"/><text class="t" x="1339.7" y="821.4">BCRV | YP_002308573.1</text></g>
<g id="D-AgLV"><circle class="dy" cx="1322.6" cy="839.9" r="2.3"/><text class="t" x="1335.1" y="839.9">AgLV | YP_008470973.1</text></g>
<g id="D-CGIV-1"><circle class="dy" cx="1318" cy="859.1" r="2.3"/><text class="t" x="1329.9" y="859.1">CGIV-1 | YP_009551517.1</text></g>
<g id="D-PrV-1"><circle class="dy" cx="1343.4" cy="877.1" r="2.3"/><text class="t" x="1351.8" y="877.1">PrV-1 | QSG73633.1</text></g>
<g id="D-PMoV"><circle class="dy" cx="1375.7" cy="896.5" r="2.3"/><text class="t" x="1386.7" y="896.5">PMoV | YP_006464.1</text></g>
<g id="D-TNSV"><circle class="dy" cx="1359" cy="915.4" r="2.3"/><text class="t" x="1374.7" y="915.4">TNSV | AYN45103.1</text></g>
<g id="D-PVC"><circle class="dy" cx="1370.5" cy="933.7" r="2.3"/><text class="t" x="1382.6" y="933.7">PVC | AWC08307.1</text></g>
<g id="D-GAIV"><circle class="dy" cx="1353.4" cy="952.6" r="2.3"/><text class="t" x="1366.3" y="952.6">GAIV | QIJ25697.1</text></g>
<g id="D-SNIV-1"><circle class="dy" cx="1351.8" cy="970.6" r="2.3"/><text class="t" x="1363.2" y="970.6">SNIV-1 | QGN75800.1</text></g>
<g id="D-PrRSV"><circle class="dy" cx="1352.8" cy="989.1" r="2.3"/><text class="t" x="1365.3" y="989.1">PrRSV | YP_009166000.1</text></g>
<g id="D-TSV"><circle class="dy" cx="1329.9" cy="1008" r="2.3"/><text class="t" x="1345.5" y="1008">TSV | NP_620774.1</text></g>
<g id="D-SNSV"><circle class="dy" cx="1271.6" cy="1025.5" r="2.3"/><text class="t" x="1284.1" y="1025.5">SNSV | YP_941471.1</text></g>
<g id="D-CVV"><circle class="d" cx="1241.4" cy="1044.6" r="2.3"/><text class="t" x="1252.8" y="1044.6">CVV | YP_001285481.1</text></g>
<g id="D-AV2"><circle class="d" cx="1270.7" cy="1064.9" r="2.3"/><text class="t" x="1284.5" y="1064.9">AV2 | YP_002455927.1</text></g>
<g id="D-SpLV"><circle class="d" cx="1282.5" cy="1083.2" r="2.3"/><text class="t" x="1295.4" y="1083.2">SpLV | NP_620681.1</text></g>
<g id="D-TAMV"><circle class="d" cx="1313" cy="1101.6" r="2.3"/><text class="t" x="1325.7" y="1101.6">TAMV | NP_620757.1</text></g>
<g id="D-ToNSV"><circle class="d" cx="1299.8" cy="1120.7" r="2.3"/><text class="t" x="1314" y="1120.7">ToNSV | YP_009508874.1</text></g>
<g id="D-RIV-1"><circle class="d" cx="1302.2" cy="1139.6" r="2.3"/><text class="t" x="1313.1" y="1139.6">RIV-1 | QPB74034.1</text></g>
<g id="D-CiLRV"><circle class="d" cx="1297.8" cy="1157.3" r="2.3"/><text class="t" x="1309.5" y="1157.3">CiLRV | NP_613280.1</text></g>
<g id="D-EMoV"><circle class="d" cx="1221.9" cy="1176.2" r="2.3"/><text class="t" x="1233.7" y="1176.2">EMoV | NP_619578.1</text></g>
<g id="D-ApMV"><circle class="dr" cx="1246.3" cy="1194.5" r="2.3"/><text class="t" x="1258.1" y="1194.5">ApMV | NP_604485.1</text></g>
<g id="D-PNRSV"><circle class="dr" cx="1270.7" cy="1213.7" r="2.3"/><text class="t" x="1283.1" y="1213.7">PNRSV | NP_733826.1</text></g>
<g id="D-ApNMV"><circle class="dr" cx="1269.8" cy="1232.6" r="2.3"/><text class="t" x="1284.5" y="1232.6">ApNMV | YP_009551614.1</text></g>
<g id="D-BIShV"><circle class="dr" cx="1285.4" cy="1250.9" r="2.3"/><text class="t" x="1297.2" y="1250.9">BIShV | YP_008519307.1</text></g>
<g id="D-LLCV"><circle class="dr" cx="1261.9" cy="1270" r="2.3"/><text class="t" x="1273.7" y="1270">LLCV | YP_009104373.1</text></g>
<g id="D-BabIV-1"><circle class="dr" cx="1244.3" cy="1288.9" r="2.3"/><text class="t" x="1254.2" y="1288.9">BabIV-1 | OQ256240</text><text class="star" x="1394.8" y="1288.9">★</text></g>
<g id="D-TPLPV"><circle class="d" cx="1343.3" cy="1308.1" r="2.3"/><text class="t" x="1350.7" y="1308.1">TPLPV | YP_009551570.1</text></g>
<g id="D-APLPV"><circle class="d" cx="1316" cy="1326.4" r="2.3"/><text class="t" x="1330.1" y="1326.4">APLPV | NP_602315.1</text></g>
<g id="D-FCILV"><circle class="d" cx="1241" cy="1345.3" r="2.3"/><text class="t" x="1253.7" y="1345.3">FCILV | YP_164805.1</text></g>
<g id="D-PYV"><circle class="d" cx="1256" cy="1364.4" r="2.3"/><text class="t" x="1266.9" y="1364.4">PYV | QGL51780.1</text></g>
<g id="D-WCVA"><circle class="d" cx="1266.3" cy="1383.3" r="2.3"/><text class="t" x="1280.1" y="1383.3">WCVA | UCY33662.1</text></g>
<g id="D-PDV"><circle class="d" cx="1312.5" cy="1402.5" r="2.3"/><text class="t" x="1324.2" y="1402.5">PDV | YP_611153.1</text></g>
<g id="D-VWDAV"><circle class="d" cx="1306.6" cy="1420.8" r="2.3"/><text class="t" x="1319.8" y="1420.8">VWDAV | ANS71061.1</text></g>
<g id="D-HJLV"><circle class="d" cx="1419.8" cy="1439.7" r="2.3"/><text class="t" x="1427.1" y="1439.7">HJLV | YP_054425.1</text></g>
<g id="D-CMV"><circle class="d" cx="1039.2" cy="1457.9" r="2.3"/><text class="t" x="1051.9" y="1457.9">CMV | NP_040777.1</text></g>
<g id="D-TAV"><circle class="d" cx="1169" cy="1477.5" r="2.3"/><text class="t" x="1182.5" y="1477.5">TAV | NP_620759.1</text></g>
</g>

</g>
</svg>
